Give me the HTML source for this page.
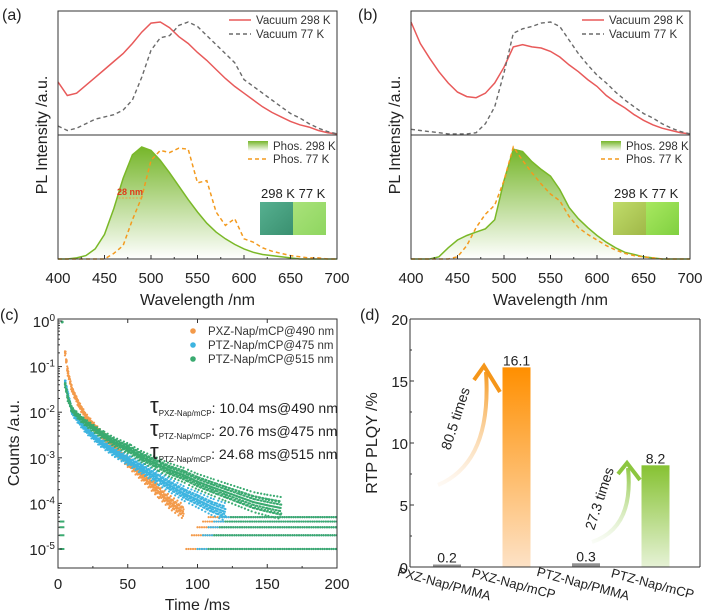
<!DOCTYPE html>
<html><head><meta charset="utf-8"><style>
body{margin:0;background:#fff}
svg{display:block;font-family:"Liberation Sans",Arial,sans-serif}
</style></head><body>
<svg id="fig" width="703" height="615" viewBox="0 0 703 615" xmlns="http://www.w3.org/2000/svg">
<defs>
<linearGradient id="gArea" x1="0" y1="0" x2="0" y2="1"><stop offset="0" stop-color="#76b62a"/><stop offset="1" stop-color="#ffffff"/></linearGradient>
<linearGradient id="gOr" x1="0" y1="0" x2="0" y2="1"><stop offset="0" stop-color="#ff8f00"/><stop offset="1" stop-color="#fde2c6"/></linearGradient>
<linearGradient id="gGr" x1="0" y1="0" x2="0" y2="1"><stop offset="0" stop-color="#86c232"/><stop offset="1" stop-color="#e6f2d6"/></linearGradient>
<linearGradient id="gArrO" gradientUnits="userSpaceOnUse" x1="438" y1="485" x2="490" y2="370"><stop offset="0" stop-color="#fbe3c8" stop-opacity="0.2"/><stop offset="1" stop-color="#f5961a"/></linearGradient>
<linearGradient id="gArrG" gradientUnits="userSpaceOnUse" x1="592" y1="542" x2="630" y2="465"><stop offset="0" stop-color="#e4f1d4" stop-opacity="0.2"/><stop offset="1" stop-color="#8cc63f"/></linearGradient>
<linearGradient id="imA1" x1="0" y1="0" x2="1" y2="1"><stop offset="0" stop-color="#56b090"/><stop offset="1" stop-color="#3a9070"/></linearGradient>
<linearGradient id="imA2" x1="0" y1="0" x2="1" y2="1"><stop offset="0" stop-color="#a9e27a"/><stop offset="1" stop-color="#8fd660"/></linearGradient>
<linearGradient id="imB1" x1="0" y1="0" x2="1" y2="1"><stop offset="0" stop-color="#c0dc6a"/><stop offset="1" stop-color="#a0b848"/></linearGradient>
<linearGradient id="imB2" x1="0" y1="0" x2="1" y2="1"><stop offset="0" stop-color="#a8e860"/><stop offset="1" stop-color="#80d040"/></linearGradient>
</defs>
<g id="root"></g>
</svg>
<script>
// ---------- data ----------
const wl = [400,410,420,430,440,450,460,470,480,490,500,510,520,530,540,550,560,570,580,590,600,610,620,630,640,650,660,670,680,690,700];
const aVac298 = [0.47,0.35,0.37,0.44,0.51,0.58,0.65,0.72,0.81,0.91,0.99,1.0,0.95,0.87,0.81,0.73,0.66,0.58,0.50,0.43,0.37,0.31,0.25,0.20,0.16,0.12,0.09,0.07,0.04,0.02,0.01];
const aVac77 = [0.08,0.04,0.06,0.10,0.14,0.16,0.18,0.22,0.31,0.51,0.75,0.86,0.88,0.97,1.0,0.96,0.88,0.80,0.72,0.64,0.49,0.43,0.37,0.31,0.25,0.19,0.15,0.10,0.06,0.03,0.01];
const aPhos298 = [0,0,0.01,0.03,0.09,0.22,0.45,0.72,0.93,1.0,0.97,0.88,0.77,0.65,0.53,0.42,0.32,0.24,0.18,0.13,0.09,0.06,0.04,0.03,0.02,0.01,0,0,0,0,0];
const aPhos77 = [0,0,0,0,0,0,0.05,0.12,0.35,0.55,0.88,0.97,0.95,0.99,0.98,0.68,0.70,0.42,0.30,0.36,0.18,0.15,0.10,0.07,0.05,0.03,0.02,0.01,0.01,0,0];
const bVac298 = [1.0,0.81,0.68,0.56,0.46,0.38,0.34,0.33,0.37,0.46,0.60,0.78,0.80,0.78,0.77,0.74,0.69,0.62,0.56,0.49,0.43,0.35,0.29,0.24,0.18,0.13,0.09,0.06,0.04,0.02,0.01];
const bVac77 = [0.05,0.04,0.03,0.02,0.01,0.01,0.01,0.02,0.10,0.25,0.55,0.90,0.94,0.96,0.99,1.0,0.96,0.84,0.72,0.62,0.53,0.46,0.38,0.31,0.25,0.19,0.15,0.10,0.06,0.03,0.01];
const bPhos298 = [0,0,0,0.02,0.10,0.17,0.21,0.24,0.27,0.35,0.70,0.98,0.96,0.87,0.80,0.74,0.62,0.46,0.36,0.28,0.21,0.15,0.10,0.06,0.04,0.02,0.01,0,0,0,0];
const bPhos77 = [0,0,0,0,0,0.02,0.12,0.28,0.40,0.48,0.70,1.0,0.88,0.77,0.67,0.58,0.52,0.38,0.28,0.22,0.17,0.12,0.08,0.05,0.03,0.02,0.01,0,0,0,0];
const wlTicks = [400,450,500,550,600,650,700];

const tPXZ = [5,7,10,15,20,25,30,40,50,60,70,80,90];
const vPXZ = [0.2,0.072,0.031,0.0145,0.0079,0.0052,0.0035,0.00166,0.00081,0.00042,0.00021,0.000107,0.000065];
const tPTZ475 = [5,7,10,15,20,30,40,50,60,70,80,90,100,110,120];
const vPTZ475 = [0.046,0.024,0.01,0.0063,0.0041,0.0022,0.00135,0.00089,0.00059,0.00038,0.00025,0.000166,0.00012,0.000085,0.000065];
const tPTZ515 = [5,7,10,15,20,30,40,50,60,70,80,90,100,110,120,130,140,150,160];
const vPTZ515 = [0.04,0.02,0.0112,0.0079,0.0058,0.0035,0.00224,0.00162,0.00105,0.00076,0.00054,0.00042,0.0003,0.00023,0.000178,0.000138,0.000107,0.000091,0.000079];
const floorLevels = [1e-5,2e-5,3e-5,4e-5,5e-5];
const floorStart = [92,100,108];
const timeTicks = [0,50,100,150,200];
const logTicks = [0,-1,-2,-3,-4,-5];

const barCats = ["PXZ-Nap/PMMA","PXZ-Nap/mCP","PTZ-Nap/PMMA","PTZ-Nap/mCP"];
const barVals = [0.2,16.1,0.3,8.2];
const barTicks = [0,5,10,15,20];

// ---------- helpers ----------
const NS="http://www.w3.org/2000/svg";
const root=document.getElementById('root');
function mk(tag,attrs,parent,name){const e=document.createElementNS(NS,tag);for(const k in attrs)e.setAttribute(k,attrs[k]);(parent||root).appendChild(e);


return e;}
function txt(x,y,s,attrs,name){const p=(attrs&&attrs.parent)||root;const a=Object.assign({x:x,y:y},attrs||{});delete a.parent;const t=mk('text',a,p,name||'label');t.textContent=s;return t;}
function lin(a,b,c,d){return v=>c+(v-a)*(d-c)/(b-a);}

// ---------- spectra panels ----------
function spectra(ox,label,labelX,vac298,vac77,ph298,ph77,imgs){
  const L=ox,R=ox+279,T=11,M=135,B=259;
  const g=mk('g',{},root,'panel-'+label);
  const x=lin(400,700,L,R);
  const yTop=lin(0,1,M,22), yBot=lin(0,1,B,147);
  const pts=(arr,yf)=>wl.map((w,i)=>x(w).toFixed(1)+','+yf(arr[i]).toFixed(1)).join(' ');
  mk('polygon',{points:x(400)+','+B+' '+pts(ph298,yBot)+' '+x(700)+','+B,fill:'url(#gArea)',stroke:'none'},g,'phos-298k-area');
  mk('polyline',{points:pts(ph298,yBot),fill:'none',stroke:'#7ab828','stroke-width':1.5},g,'phos-298k-line');
  mk('polyline',{points:pts(ph77,yBot),fill:'none',stroke:'#f39a1e','stroke-width':1.5,'stroke-dasharray':'4,3'},g,'phos-77k-line');
  mk('polyline',{points:pts(vac298,yTop),fill:'none',stroke:'#e85a5a','stroke-width':1.5},g,'vacuum-298k-line');
  mk('polyline',{points:pts(vac77,yTop),fill:'none',stroke:'#6a6a6a','stroke-width':1.4,'stroke-dasharray':'4,3'},g,'vacuum-77k-line');
  mk('rect',{x:L,y:T,width:R-L,height:B-T,fill:'none',stroke:'#333','stroke-width':1},g,'plot-frame');
  mk('line',{x1:L,y1:M,x2:R,y2:M,stroke:'#333','stroke-width':1},g,'panel-divider');
  wlTicks.forEach((w,i)=>{mk('line',{x1:x(w),y1:B,x2:x(w),y2:B-4,stroke:'#333'},g,'x-tick');
    txt(x(w),283,String(w),{'text-anchor':'middle','font-size':15,fill:'#222',parent:g},'x-tick-label');
    if(i<6) mk('line',{x1:x(w+25),y1:B,x2:x(w+25),y2:B-2,stroke:'#333'},g,'x-minor-tick');});
  txt((L+R)/2,305,'Wavelength /nm',{'text-anchor':'middle','font-size':16,fill:'#222',parent:g},'x-axis-title');
  txt(0,0,'PL Intensity /a.u.',{'text-anchor':'middle','font-size':16,fill:'#222',transform:`translate(${L-11},135) rotate(-90)`,parent:g},'y-axis-title');
  const lx=R-108;
  mk('line',{x1:lx,y1:20,x2:lx+22,y2:20,stroke:'#e85a5a','stroke-width':1.5},g,'legend-vacuum-298k-line');
  txt(lx+27,24,'Vacuum 298 K',{'font-size':11.5,fill:'#333',parent:g},'legend-vacuum-298k');
  mk('line',{x1:lx,y1:34,x2:lx+22,y2:34,stroke:'#6a6a6a','stroke-width':1.4,'stroke-dasharray':'4,3'},g,'legend-vacuum-77k-line');
  txt(lx+27,38,'Vacuum 77 K',{'font-size':11.5,fill:'#333',parent:g},'legend-vacuum-77k');
  const px=R-89;
  mk('rect',{x:px,y:141,width:20,height:10,fill:'url(#gArea)'},g,'legend-phos-298k-swatch');
  txt(px+25,150,'Phos. 298 K',{'font-size':11.5,fill:'#333',parent:g},'legend-phos-298k');
  mk('line',{x1:px,y1:159,x2:px+20,y2:159,stroke:'#f39a1e','stroke-width':1.5,'stroke-dasharray':'4,3'},g,'legend-phos-77k-line');
  txt(px+25,163,'Phos. 77 K',{'font-size':11.5,fill:'#333',parent:g},'legend-phos-77k');
  const ix=R-77;
  txt(ix+1,198,'298 K 77 K',{'font-size':13,fill:'#222',parent:g},'photo-label');
  mk('rect',{x:ix,y:202,width:33,height:33,fill:imgs[0]},g,'photo-298k');
  mk('rect',{x:ix+33,y:202,width:33,height:33,fill:imgs[1]},g,'photo-77k');
  txt(labelX,20,'('+label+')',{'font-size':16,fill:'#222',parent:g},'panel-label');
  return {x,yBot,g};
}
const pa=spectra(58,'a',2,aVac298,aVac77,aPhos298,aPhos77,['url(#imA1)','url(#imA2)']);
txt(117,195,'28 nm',{'font-size':9,'font-weight':'bold',fill:'#e03a1a',parent:pa.g},'shift-annotation');
mk('line',{x1:pa.x(465),y1:198,x2:pa.x(490),y2:198,stroke:'#f0a040','stroke-dasharray':'2,1.5'},pa.g,'shift-arrow');
spectra(411,'b',358,bVac298,bVac77,bPhos298,bPhos77,['url(#imB1)','url(#imB2)']);

// ---------- panel c ----------
(function(){
  const L=58,R=337,T=319,B=568;
  const g=mk('g',{},root,'panel-c');
  const x=lin(0,200,L,R), y=lin(0,-5,321,549);
  const ly=v=>y(Math.log10(v));
  const clip=mk('clipPath',{id:'cClip'},g,'clip');mk('rect',{x:L,y:T,width:R-L,height:B-T},clip,'clip-rect');
  const pg=mk('g',{'clip-path':'url(#cClip)'},g,'scatter-area');
  const series=[[tPXZ,vPXZ,'#f39a4a',floorStart[0]],[tPTZ475,vPTZ475,'#3db4e0',floorStart[1]],[tPTZ515,vPTZ515,'#3aaa70',floorStart[2]]];
  const offs=[-1,-0.5,0,0.5,1];
  series.forEach((s)=>{
    const [ts,vs,col,fs]=s;
    floorLevels.forEach((lv,li)=>{for(let t=fs+li*4;t<=200;t+=1.6){mk('circle',{cx:x(t),cy:ly(lv),r:1.1,fill:col},pg,'floor-point');}});
    for(let i=0;i<ts.length-1;i++){
      const a=Math.log10(vs[i]),b=Math.log10(vs[i+1]);
      for(let t=ts[i];t<ts[i+1];t+=0.8){
        const f=(t-ts[i])/(ts[i+1]-ts[i]);
        const lv=a+(b-a)*f;
        const sp=0.05+0.0012*t;
        offs.forEach((o,k)=>{mk('circle',{cx:x(t+(k%2)*0.4),cy:y(lv+o*sp*((Math.round(t*1.25)+k)%3===0?1:0.6)),r:1.1,fill:col},pg,'decay-point');});
      }
    }
  });
  mk('circle',{cx:x(3),cy:ly(0.95),r:1.5,fill:'#3aaa70'},pg,'initial-point');
  [1e-5,2e-5,3e-5,4e-5].forEach(v=>mk('rect',{x:x(1),y:ly(v)-1,width:5,height:2,fill:'#3aaa70'},pg,'early-point'));
  mk('rect',{x:L,y:T,width:R-L,height:B-T,fill:'none',stroke:'#333'},g,'plot-frame');
  timeTicks.forEach((t,i)=>{mk('line',{x1:x(t),y1:B,x2:x(t),y2:B-4,stroke:'#333'},g,'x-tick');
    mk('line',{x1:x(t),y1:T,x2:x(t),y2:T+4,stroke:'#333'},g,'x-tick-top');
    txt(x(t),589,String(t),{'text-anchor':'middle','font-size':15,fill:'#222',parent:g},'x-tick-label');
    if(i<4){mk('line',{x1:x(t+25),y1:B,x2:x(t+25),y2:B-2,stroke:'#333'},g,'x-minor-tick');}});
  logTicks.forEach(e=>{mk('line',{x1:L,y1:y(e),x2:L+4,y2:y(e),stroke:'#333'},g,'y-tick');
    const t=txt(L-3,y(e)+6,'10',{'font-size':15,fill:'#222','text-anchor':'end',parent:g},'y-tick-label');
    const sup=document.createElementNS(NS,'tspan');sup.setAttribute('dy','-6');sup.setAttribute('font-size','10');sup.textContent=String(e);t.appendChild(sup);
    if(e>-5){for(let k=2;k<10;k++){const yy=y(e-1+Math.log10(k));mk('line',{x1:L,y1:yy,x2:L+2,y2:yy,stroke:'#333'},g,'y-minor-tick');}}});
  txt((L+R)/2,610,'Time /ms',{'text-anchor':'middle','font-size':16,fill:'#222',parent:g},'x-axis-title');
  txt(0,0,'Counts /a.u.',{'text-anchor':'middle','font-size':16,fill:'#222',transform:'translate(19,443) rotate(-90)',parent:g},'y-axis-title');
  txt(0,320,'(c)',{'font-size':16,fill:'#222',parent:g},'panel-label');
  const leg=[['PXZ-Nap/mCP@490 nm','#f39a4a'],['PTZ-Nap/mCP@475 nm','#3db4e0'],['PTZ-Nap/mCP@515 nm','#3aaa70']];
  leg.forEach((l,i)=>{mk('circle',{cx:193,cy:331+i*14,r:2.8,fill:l[1]},g,'legend-marker');
    txt(208,335+i*14,l[0],{'font-size':11.5,fill:'#333',parent:g},'legend-entry');});
  const taus=[['PXZ-Nap/mCP',': 10.04 ms@490 nm'],['PTZ-Nap/mCP',': 20.76 ms@475 nm'],['PTZ-Nap/mCP',': 24.68 ms@515 nm']];
  taus.forEach((tt,i)=>{const t=txt(150,413+i*23,'τ',{'font-size':22,fill:'#222',parent:g},'lifetime-label');
    const s1=document.createElementNS(NS,'tspan');s1.setAttribute('font-size','8');s1.setAttribute('dy','3');s1.textContent=tt[0];t.appendChild(s1);
    const s2=document.createElementNS(NS,'tspan');s2.setAttribute('font-size','14');s2.setAttribute('dy','-3');s2.textContent=tt[1];t.appendChild(s2);});
})();

// ---------- panel d ----------
(function(){
  const L=410,R=700,T=319,B=567;
  const g=mk('g',{},root,'panel-d');
  const y=lin(0,20,B,T);
  const xc=i=>447+i*69.5;
  const fills=['#909090','url(#gOr)','#909090','url(#gGr)'];
  barVals.forEach((v,i)=>{mk('rect',{x:xc(i)-14,y:y(v),width:28,height:B-y(v),fill:fills[i]},g,'bar-'+barCats[i].toLowerCase().replace(/[^a-z]+/g,'-'));
    txt(xc(i),y(v)-2,String(v),{'text-anchor':'middle','font-size':14,fill:'#222',parent:g},'bar-value');});
  // arrows
  mk('path',{d:'M438,485 Q492,462 486,372',fill:'none',stroke:'url(#gArrO)','stroke-width':4},g,'increase-arrow-pxz');
  mk('polyline',{points:'474,380 484,366 500,392',fill:'none',stroke:'#f5961a','stroke-width':4,'stroke-linejoin':'miter'},g,'increase-arrowhead-pxz');
  txt(0,0,'80.5 times',{'font-size':14,fill:'#222','text-anchor':'middle',transform:'translate(460,420) rotate(-72)',parent:g},'increase-label-pxz');
  mk('path',{d:'M592,542 Q634,528 628,468',fill:'none',stroke:'url(#gArrG)','stroke-width':4},g,'increase-arrow-ptz');
  mk('polyline',{points:'618,474 627,463 640,480',fill:'none',stroke:'#8cc63f','stroke-width':4},g,'increase-arrowhead-ptz');
  txt(0,0,'27.3 times',{'font-size':14,fill:'#222','text-anchor':'middle',transform:'translate(604,500) rotate(-72)',parent:g},'increase-label-ptz');
  mk('line',{x1:L,y1:T,x2:R,y2:T,stroke:'#333'},g,'frame-top');
  mk('line',{x1:R,y1:T,x2:R,y2:B,stroke:'#333'},g,'frame-right');
  mk('line',{x1:L,y1:T,x2:L,y2:B,stroke:'#333'},g,'y-axis-line');
  mk('line',{x1:L,y1:B,x2:R,y2:B,stroke:'#333'},g,'x-axis-line');
  barTicks.forEach(v=>{mk('line',{x1:L,y1:y(v),x2:L+4,y2:y(v),stroke:'#333'},g,'y-tick');
    if(v<20) mk('line',{x1:L,y1:y(v+2.5),x2:L+2,y2:y(v+2.5),stroke:'#333'},g,'y-minor-tick');
    txt(L-2,y(v)+6,String(v),{'text-anchor':'end','font-size':15,fill:'#222',parent:g},'y-tick-label');});
  barCats.forEach((c,i)=>{txt(0,0,c,{'font-size':13,fill:'#222','text-anchor':'middle',transform:`translate(${xc(i)-4},${588}) rotate(15)`,parent:g},'x-tick-label');});
  txt(0,0,'RTP PLQY /%',{'text-anchor':'middle','font-size':16,fill:'#222',transform:'translate(377,443) rotate(-90)',parent:g},'y-axis-title');
  txt(360,320,'(d)',{'font-size':16,fill:'#222',parent:g},'panel-label');
})();
</script>
</body></html>
